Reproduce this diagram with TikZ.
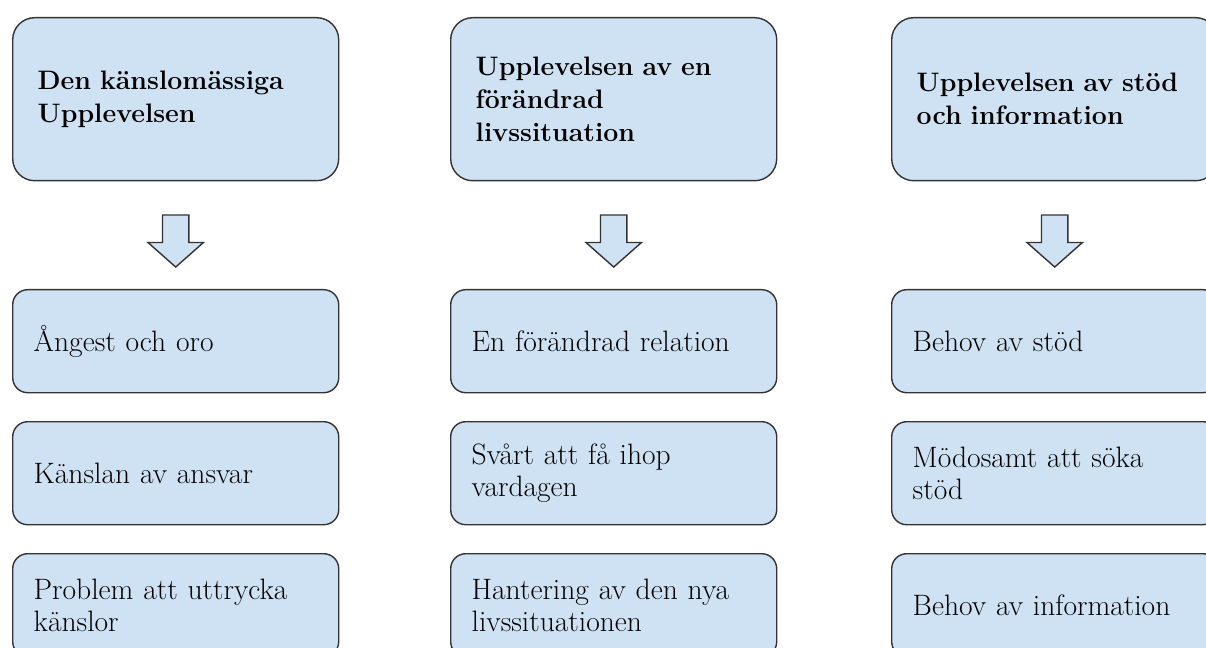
\documentclass[tikz,border=0pt]{standalone}
\usepackage{fontspec}
\usetikzlibrary{shapes.arrows,calc}
\definecolor{boxblue}{HTML}{CFE2F3}
\definecolor{boxline}{HTML}{333333}

\begin{document}
\begin{tikzpicture}[
    font=\fontsize{21}{23}\selectfont,
    every node/.style={align=left, anchor=north west},
    box/.style={draw=boxline, fill=boxblue, line width=1pt, rounded corners=0.375cm,
        minimum width=8.15cm, minimum height=2.575cm, text width=7.1cm, inner xsep=0.525cm},
    headbox/.style={box, rounded corners=0.55cm, minimum height=4.075cm, text width=6.9cm,
        inner xsep=0.625cm, font=\fontsize{19}{23.5}\selectfont\bfseries},
    downarr/.style={single arrow, draw=boxline, fill=boxblue, line width=1pt, rotate=-90,
        anchor=center, minimum height=1.3cm, minimum width=0pt, inner sep=0.3125cm,
        single arrow head extend=0.3625cm, single arrow tip angle=97}
]
\useasboundingbox (0,0) rectangle (30.15,-16.2);
\clip (0,0) rectangle (30.15,-16.2);

\node[headbox] (kansla) at (0.3,-0.425) {Den känslomässiga\\Upplevelsen};
\node[headbox] (livs) at (11.25,-0.425) {Upplevelsen av en\\förändrad\\livssituation};
\node[headbox] (stodinfo) at (22.275,-0.425) {Upplevelsen av stöd\\och information};

\node[box] (oro) at (0.3,-7.225) {Ångest och oro};
\node[box] (ansvar) at (0.3,-10.525) {Känslan av ansvar};
\node[box] (uttryck) at (0.3,-13.825) {Problem att uttrycka\\känslor};

\node[box] (relation) at (11.25,-7.225) {En förändrad relation};
\node[box] (vardag) at (11.25,-10.525) {Svårt att få ihop\\vardagen};
\node[box] (hantering) at (11.25,-13.825) {Hantering av den nya\\livssituationen};

\node[box] (stod) at (22.275,-7.225) {Behov av stöd};
\node[box] (soka) at (22.275,-10.525) {Mödosamt att söka\\stöd};
\node[box] (info) at (22.275,-13.825) {Behov av information};

\foreach \a/\b in {kansla/oro, livs/relation, stodinfo/stod} {\node[downarr] (arr-\a) at ($(\a.south)!0.5!(\b.north)$) {};}
\end{tikzpicture}
\end{document}
